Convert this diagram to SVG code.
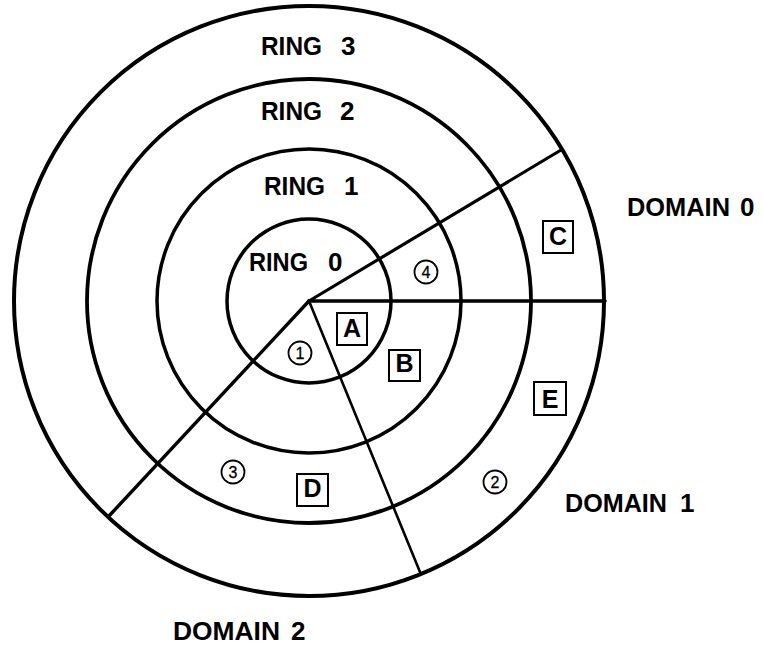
<svg xmlns="http://www.w3.org/2000/svg" width="763" height="646" viewBox="0 0 763 646">
  <style>
    .ring { fill: none; stroke: #000; }
    .div { stroke: #000; stroke-linecap: round; fill: none; }
    .lbl { font-family: "Liberation Sans", Arial, Helvetica, sans-serif; font-weight: bold; font-size: 26px; fill: #000; }
    .seg { fill: #fff; stroke: #000; stroke-width: 2; }
    .segtxt { font-family: "Liberation Sans", Arial, Helvetica, sans-serif; font-weight: bold; font-size: 25px; fill: #000; text-anchor: middle; }
    .gate { fill: #fff; stroke: #000; stroke-width: 1.8; }
    .gatetxt { font-family: "Liberation Sans", Arial, Helvetica, sans-serif; font-size: 16px; fill: #000; text-anchor: middle; stroke: #000; stroke-width: 0.3; }
  </style>
  <rect width="763" height="646" fill="#fff"/>

  <!-- concentric protection rings -->
  <g id="rings">
    <circle class="ring" cx="309" cy="301" r="295" stroke-width="4"/>
    <circle class="ring" cx="309" cy="301" r="222" stroke-width="3.8"/>
    <circle class="ring" cx="309" cy="301" r="152" stroke-width="3.5"/>
    <circle class="ring" cx="309" cy="301" r="82" stroke-width="3.5"/>
  </g>

  <!-- domain boundaries radiating from the centre -->
  <g id="connectors">
    <line class="div" x1="309" y1="301" x2="605" y2="301" stroke-width="3.6"/>
    <line class="div" x1="309" y1="301" x2="561" y2="150" stroke-width="3.2"/>
    <line class="div" x1="309" y1="301" x2="109" y2="516" stroke-width="3.4"/>
    <line class="div" x1="309" y1="301" x2="420" y2="572" stroke-width="2.6"/>
  </g>

  <!-- ring labels -->
  <g id="ring-labels">
    <text class="lbl" x="261" y="55" textLength="61" lengthAdjust="spacingAndGlyphs">RING</text>
    <text class="lbl" x="341" y="55">3</text>
    <text class="lbl" x="261" y="120" textLength="61" lengthAdjust="spacingAndGlyphs">RING</text>
    <text class="lbl" x="340" y="120">2</text>
    <text class="lbl" x="264" y="195" textLength="61" lengthAdjust="spacingAndGlyphs">RING</text>
    <text class="lbl" x="344" y="195">1</text>
    <text class="lbl" x="249" y="271" textLength="59" lengthAdjust="spacingAndGlyphs">RING</text>
    <text class="lbl" x="328" y="271">0</text>
  </g>

  <!-- domain labels -->
  <g id="domain-labels">
    <text class="lbl" x="627" y="216" textLength="103" lengthAdjust="spacingAndGlyphs">DOMAIN</text>
    <text class="lbl" x="740" y="216">0</text>
    <text class="lbl" x="565" y="512" textLength="102" lengthAdjust="spacingAndGlyphs">DOMAIN</text>
    <text class="lbl" x="680" y="512">1</text>
    <text class="lbl" x="173" y="640" textLength="107" lengthAdjust="spacingAndGlyphs">DOMAIN</text>
    <text class="lbl" x="291" y="640">2</text>
  </g>

  <!-- segments -->
  <g id="seg-A">
    <rect class="seg" x="337" y="313" width="30" height="32"/>
    <text class="segtxt" x="352" y="337">A</text>
  </g>
  <g id="seg-B">
    <rect class="seg" x="389" y="350" width="31" height="31"/>
    <text class="segtxt" x="404.5" y="372">B</text>
  </g>
  <g id="seg-C">
    <rect class="seg" x="543" y="221" width="30" height="32"/>
    <text class="segtxt" x="558" y="245">C</text>
  </g>
  <g id="seg-D">
    <rect class="seg" x="297" y="474" width="31" height="32"/>
    <text class="segtxt" x="312.5" y="497">D</text>
  </g>
  <g id="seg-E">
    <rect class="seg" x="534" y="382" width="32" height="33"/>
    <text class="segtxt" x="550" y="408">E</text>
  </g>

  <!-- numbered gates -->
  <g id="gate-1">
    <circle class="gate" cx="300" cy="353" r="11.5"/>
    <text class="gatetxt" x="300" y="358.8">1</text>
  </g>
  <g id="gate-2">
    <circle class="gate" cx="495" cy="482" r="11.5"/>
    <text class="gatetxt" x="495" y="487.8">2</text>
  </g>
  <g id="gate-3">
    <circle class="gate" cx="233" cy="472" r="11.5"/>
    <text class="gatetxt" x="233" y="477.8">3</text>
  </g>
  <g id="gate-4">
    <circle class="gate" cx="426" cy="272" r="11.5"/>
    <text class="gatetxt" x="426" y="277.8">4</text>
  </g>
</svg>
